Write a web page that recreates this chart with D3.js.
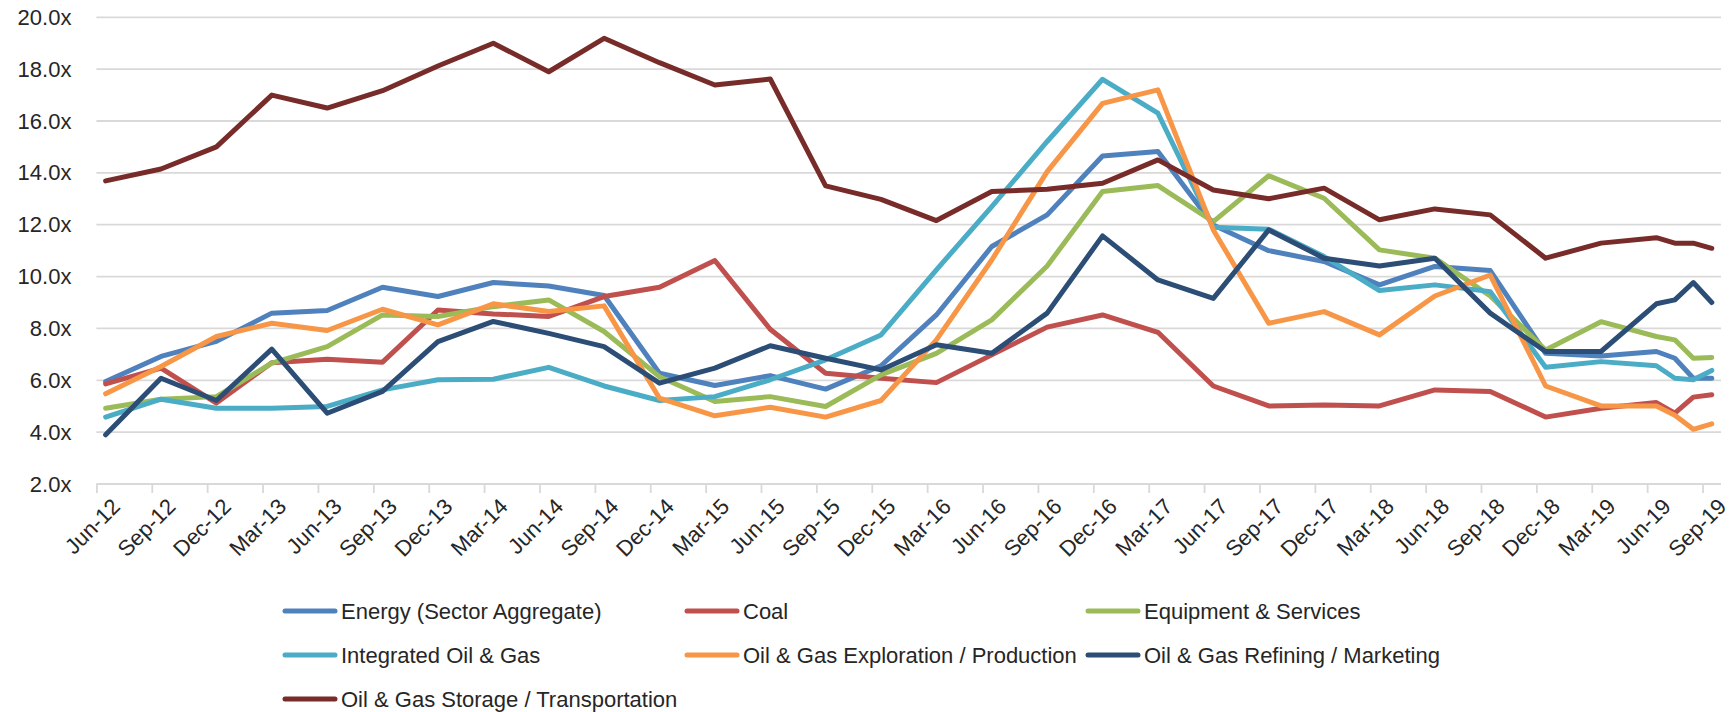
<!DOCTYPE html>
<html lang="en">
<head>
  <meta charset="UTF-8">
  <title>Energy EV/EBITDA multiples</title>
  <script src="https://d3js.org/d3.v7.min.js"></script>
  <style>
    body { margin: 0; background: #fff; }
    text { font-family: "Liberation Sans", Arial, sans-serif; fill: #262626; }
  </style>
</head>
<body>
<div id="chart"></div>
<script>
// observation dates (quarterly, then monthly at the end)
var dates = ["2012-06","2012-09","2012-12","2013-03","2013-06","2013-09","2013-12","2014-03",
  "2014-06","2014-09","2014-12","2015-03","2015-06","2015-09","2015-12","2016-03",
  "2016-06","2016-09","2016-12","2017-03","2017-06","2017-09","2017-12","2018-03",
  "2018-06","2018-09","2018-12","2019-03","2019-06","2019-07","2019-08","2019-09"];

var tickLabels = ["Jun-12","Sep-12","Dec-12","Mar-13","Jun-13","Sep-13","Dec-13","Mar-14",
  "Jun-14","Sep-14","Dec-14","Mar-15","Jun-15","Sep-15","Dec-15","Mar-16","Jun-16","Sep-16",
  "Dec-16","Mar-17","Jun-17","Sep-17","Dec-17","Mar-18","Jun-18","Sep-18","Dec-18","Mar-19",
  "Jun-19","Sep-19"];

var yTicks = [2, 4, 6, 8, 10, 12, 14, 16, 18, 20];

var energy = [5.95, 6.92, 7.5, 8.59, 8.69, 9.59, 9.23, 9.77, 9.64, 9.27, 6.27, 5.8, 6.18, 5.66, 6.56, 8.52,
  11.16, 12.38, 14.65, 14.82, 11.99, 11.0, 10.58, 9.68, 10.39, 10.23, 7.04, 6.94, 7.11, 6.85, 6.08, 6.08];
var coal = [5.86, 6.47, 5.12, 6.68, 6.81, 6.7, 8.71, 8.56, 8.46, 9.23, 9.59, 10.62, 7.97, 6.27, 6.08, 5.91,
  6.98, 8.05, 8.52, 7.85, 5.78, 5.01, 5.05, 5.01, 5.63, 5.57, 4.58, 4.92, 5.14, 4.73, 5.35, 5.44];
var equipment = [4.92, 5.27, 5.37, 6.66, 7.3, 8.52, 8.46, 8.84, 9.1, 7.88, 6.14, 5.18, 5.37, 4.99, 6.21, 7.04,
  8.33, 10.41, 13.28, 13.51, 12.12, 13.89, 13.02, 11.03, 10.71, 9.25, 7.17, 8.26, 7.69, 7.56, 6.85, 6.88];
var integrated = [4.58, 5.27, 4.92, 4.92, 4.99, 5.63, 6.02, 6.04, 6.5, 5.78, 5.22, 5.37, 6.02, 6.79, 7.75, 10.26,
  12.7, 15.21, 17.61, 16.3, 11.9, 11.83, 10.77, 9.46, 9.68, 9.42, 6.5, 6.72, 6.56, 6.08, 6.02, 6.38];
var exploration = [5.48, 6.53, 7.69, 8.2, 7.92, 8.74, 8.14, 8.95, 8.65, 8.87, 5.31, 4.63, 4.96, 4.58, 5.22, 7.56,
  10.64, 14.05, 16.68, 17.2, 11.8, 8.2, 8.65, 7.75, 9.25, 10.06, 5.78, 5.01, 5.01, 4.65, 4.11, 4.32];
var refining = [3.9, 6.08, 5.22, 7.2, 4.73, 5.57, 7.49, 8.27, 7.81, 7.3, 5.89, 6.47, 7.33, 6.85, 6.4, 7.37,
  7.04, 8.59, 11.57, 9.87, 9.16, 11.8, 10.71, 10.41, 10.71, 8.59, 7.11, 7.11, 8.95, 9.1, 9.77, 9.0];
var storage = [13.69, 14.15, 15.0, 17.0, 16.5, 17.17, 18.12, 19.0, 17.9, 19.19, 18.25, 17.39, 17.62, 13.5, 12.98, 12.16,
  13.28, 13.37, 13.6, 14.5, 13.34, 13.0, 13.41, 12.19, 12.61, 12.38, 10.71, 11.29, 11.5, 11.29, 11.29, 11.09];

var series = [
  {name: "Energy (Sector Aggregate)", values: energy, color: "#4F81BD"},
  {name: "Coal", values: coal, color: "#C0504D"},
  {name: "Equipment & Services", values: equipment, color: "#9BBB59"},
  {name: "Integrated Oil & Gas", values: integrated, color: "#4BACC6"},
  {name: "Oil & Gas Exploration / Production", values: exploration, color: "#F79646"},
  {name: "Oil & Gas Refining / Marketing", values: refining, color: "#2C4D75"},
  {name: "Oil & Gas Storage / Transportation", values: storage, color: "#772C2A"}
];

var width = 1731, height = 712;
var plot = {left: 96.4, right: 1721, top: 17.3, bottom: 484};

// month index from Jun-12
function monthIndex(s) {
  var p = s.split("-");
  return (+p[0] - 2012) * 12 + (+p[1] - 6);
}
var nMonths = monthIndex("2019-09") + 1;

var svg = d3.select("#chart").append("svg")
  .attr("width", width)
  .attr("height", height);

var x = d3.scaleLinear().domain([0, nMonths]).range([plot.left, plot.right]);
var y = d3.scaleLinear().domain([2, 20]).range([plot.bottom, plot.top]);

// gridlines
svg.append("g")
  .selectAll("line")
  .data(yTicks)
  .enter().append("line")
  .attr("x1", plot.left)
  .attr("x2", plot.right)
  .attr("y1", function(d) { return y(d); })
  .attr("y2", function(d) { return y(d); })
  .attr("stroke", "#d9d9d9")
  .attr("stroke-width", 1.8);

// y axis labels
var yAxis = d3.axisLeft(y).tickValues(yTicks).tickSize(0).tickPadding(25)
  .tickFormat(function(d) { return d3.format(".1f")(d) + "x"; });
svg.append("g")
  .attr("transform", "translate(" + plot.left + ",0)")
  .call(yAxis)
  .call(function(g) {
    g.select(".domain").remove();
    g.selectAll("text").attr("font-size", 22).attr("font-family", null).attr("fill", "#262626");
  });

// x axis: ticks every quarter
var tickMonths = tickLabels.map(function(d, i) { return i * 3; });
var xAxis = d3.axisBottom(x).tickValues(tickMonths).tickSize(9).tickFormat("");
svg.append("g")
  .attr("transform", "translate(0," + plot.bottom + ")")
  .call(xAxis)
  .call(function(g) {
    g.select(".domain").remove();
    g.selectAll("line").attr("stroke", "#d9d9d9").attr("stroke-width", 1.8);
  });

svg.append("g")
  .selectAll("text")
  .data(tickLabels)
  .enter().append("text")
  .attr("font-size", 22)
  .attr("text-anchor", "end")
  .attr("transform", function(d, i) {
    return "translate(" + (x(i * 3 + 0.5) + 5) + "," + (plot.bottom + 13) + ") rotate(-45)";
  })
  .attr("dy", "0.7em")
  .text(function(d) { return d; });

// lines
var line = d3.line()
  .x(function(d, i) { return x(monthIndex(dates[i]) + 0.5); })
  .y(function(d) { return y(d); });

svg.append("g")
  .selectAll("path")
  .data(series)
  .enter().append("path")
  .attr("fill", "none")
  .attr("stroke", function(d) { return d.color; })
  .attr("stroke-width", 5)
  .attr("stroke-linejoin", "round")
  .attr("stroke-linecap", "round")
  .attr("d", function(d) { return line(d.values); });

// legend
var legendCols = [283, 685, 1086];
var legendRows = [611, 655, 699];
var legend = svg.append("g")
  .selectAll("g")
  .data(series)
  .enter().append("g")
  .attr("transform", function(d, i) {
    return "translate(" + legendCols[i % 3] + "," + legendRows[Math.floor(i / 3)] + ")";
  });

legend.append("line")
  .attr("x1", 2).attr("x2", 52)
  .attr("stroke", function(d) { return d.color; })
  .attr("stroke-width", 5)
  .attr("stroke-linecap", "round");

legend.append("text")
  .attr("x", 58)
  .attr("dy", "0.35em")
  .attr("font-size", 22)
  .text(function(d) { return d.name; });
</script>
</body>
</html>
